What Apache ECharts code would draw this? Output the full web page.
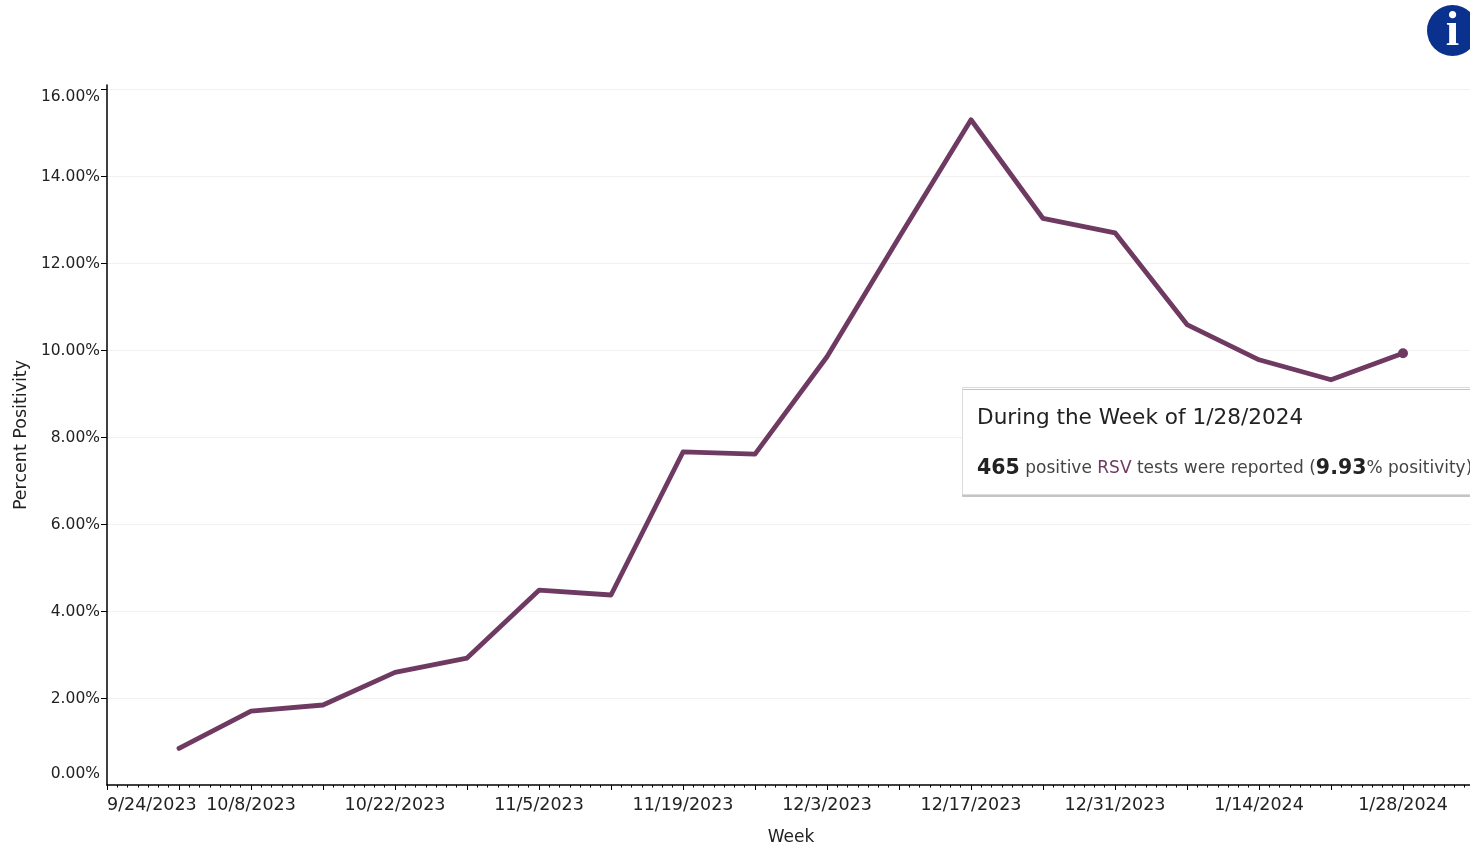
<!DOCTYPE html>
<html><head><meta charset="utf-8">
<style>html,body{margin:0;padding:0;background:#fff;overflow:hidden}#c{width:1470px;height:845px}</style>
<script src="https://cdn.jsdelivr.net/npm/echarts@6/dist/echarts.min.js"></script>
</head><body><div id="c"></div>
<script>
const weekLabels = ['9/24/2023','10/1/2023','10/8/2023','10/15/2023','10/22/2023','10/29/2023','11/5/2023','11/12/2023','11/19/2023','11/26/2023','12/3/2023','12/10/2023','12/17/2023','12/24/2023','12/31/2023','1/7/2024','1/14/2024','1/21/2024','1/28/2024','2/4/2024'];
const weekIndex = [1,2,3,4,5,6,7,8,9,10,11,12,13,14,15,16,17,18];
const positivity = [0.84,1.70,1.84,2.59,2.92,4.48,4.37,7.66,7.61,9.85,12.59,15.30,13.03,12.70,10.59,9.78,9.32,9.93];
const yTicks = [0,2,4,6,8,10,12,14,16];
const yTickMarks = [2,4,6,8,10,12,14,16];
const xLabelTicks = [0,2,4,6,8,10,12,14,16,18];
const xTickMarks = [0,1,2,3,4,5,6,7,8,9,10,11,12,13,14,15,16,17,18,19];
const FONT = '"DejaVu Sans"';
const INK = '#222';
const LINE = '#6f3a62';
const chart = echarts.init(document.getElementById('c'), null, {renderer:'canvas'});
chart.setOption({
  animation:false,
  backgroundColor:'#fff',
  grid:{left:107,top:85,width:1368,height:700,containLabel:false,outerBoundsMode:'none'},
  xAxis:{
    type:'value',min:0,max:19,interval:1,
    name:'Week',nameLocation:'middle',nameGap:44,
    nameTextStyle:{fontFamily:FONT,fontSize:17,color:INK},
    axisLine:{show:true,lineStyle:{color:'#000',width:1.5}},
    axisTick:{show:true,length:5,lineStyle:{color:'#000'},customValues:xTickMarks},
    minorTick:{show:true,splitNumber:7,length:2.5,lineStyle:{color:'#000'}},
    splitLine:{show:false},
    axisLabel:{customValues:xLabelTicks,fontFamily:FONT,fontSize:17.5,color:INK,margin:11,
      alignMinLabel:'left',showMinLabel:true,showMaxLabel:true,hideOverlap:false,
      formatter:v=>weekLabels[v]}
  },
  yAxis:{
    type:'value',min:0,max:16.1,
    name:'Percent Positivity',nameLocation:'middle',nameGap:77,
    nameTextStyle:{fontFamily:FONT,fontSize:17.5,color:INK},
    axisLine:{show:true,lineStyle:{color:'#000',width:1.5}},
    axisTick:{show:true,length:6,lineStyle:{color:'#000'},customValues:yTickMarks},
    splitLine:{show:true,lineStyle:{color:'#f1f1f1',width:1}},
    axisLabel:{customValues:yTicks,fontFamily:FONT,fontSize:15.5,color:INK,margin:7,
      formatter:v=>{const s=v.toFixed(2)+'%';return v===16?'{hi|'+s+'}':v===0?'{lo|'+s+'}':'{mid|'+s+'}';},
      rich:{hi:{fontFamily:FONT,fontSize:15.5,color:INK,padding:[16,0,0,0]},
            mid:{fontFamily:FONT,fontSize:15.5,color:INK,padding:[2,0,0,0]},
            lo:{fontFamily:FONT,fontSize:15.5,color:INK,padding:[0,0,22,0]}}}
  },
  series:[{
    type:'line',
    data:weekIndex.map((w,i)=>[w,positivity[i]]),
    showSymbol:true,showAllSymbol:true,symbol:'circle',
    symbolSize:(v,p)=>p.dataIndex===positivity.length-1?10:0,
    itemStyle:{color:LINE},
    lineStyle:{color:LINE,width:4.8,cap:'round',join:'round'},
    clip:false
  }],
  graphic:[
    {type:'rect',silent:true,z:50,shape:{x:962.5,y:387.5,width:520,height:107},
      style:{fill:'#fff',stroke:'#dcdcdc',lineWidth:1,shadowColor:'#c4c4c4',shadowBlur:0,shadowOffsetY:2}},
    {type:'text',silent:true,z:51,x:977,y:418,
      style:{text:'During the Week of 1/28/2024',fontFamily:FONT,fontSize:21.6,fill:'#222',verticalAlign:'middle',align:'left'}},
    {type:'text',silent:true,z:51,x:977,y:469,
      style:{text:'{b|465}{n| positive }{r|RSV}{n| tests were reported (}{b|9.93}{n|% positivity)}',
        verticalAlign:'middle',align:'left',
        rich:{b:{fontFamily:FONT,fontSize:20.5,fontWeight:'bold',fill:'#222'},
              n:{fontFamily:FONT,fontSize:17,fill:'#444'},
              r:{fontFamily:FONT,fontSize:17,fill:LINE}}}},
    {type:'circle',silent:true,z:60,shape:{cx:1452.5,cy:30.5,r:25.5},style:{fill:'#0b318f'}},
    {type:'text',silent:true,z:61,x:1452.5,y:33,
      style:{text:'i',fontFamily:'"Liberation Serif"',fontWeight:'bold',fontSize:48,fill:'#fff',align:'center',verticalAlign:'middle'}}
  ]
});
</script></body></html>
